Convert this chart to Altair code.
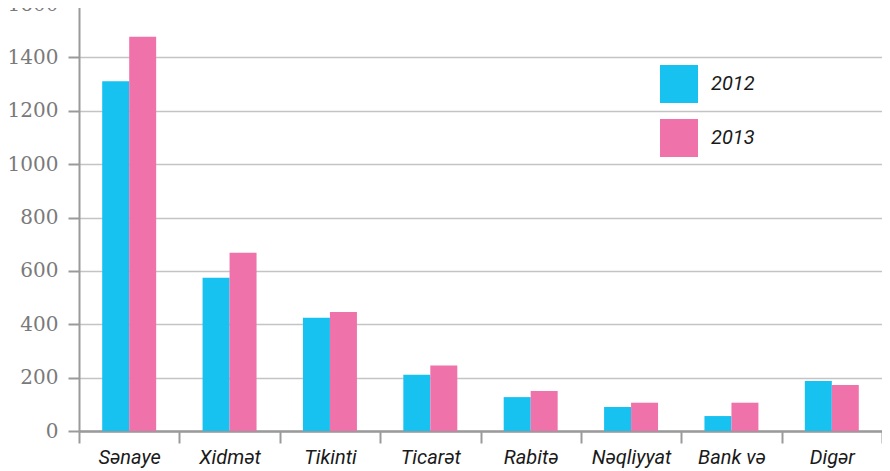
import altair as alt
import pandas as pd

categories = ["Sənaye", "Xidmət", "Tikinti", "Ticarət", "Rabitə", "Nəqliyyat", "Bank və sığorta", "Digər"]
years = ["2012", "2013"]
values_2012 = [1311, 574, 424, 211, 127, 90, 56, 187]
values_2013 = [1477, 668, 446, 245, 150, 106, 106, 172]
y_ticks = [0, 200, 400, 600, 800, 1000, 1200, 1400, 1600]
colors = ["#17C1F0", "#F072AB"]

rows = []
for c, v in zip(categories, values_2012):
    rows.append({"cat": c, "year": "2012", "value": v})
for c, v in zip(categories, values_2013):
    rows.append({"cat": c, "year": "2013", "value": v})
df = pd.DataFrame(rows)

chart = alt.Chart(df).mark_bar().encode(
    x=alt.X(
        "cat:N",
        sort=categories,
        scale=alt.Scale(paddingInner=0, paddingOuter=0),
        axis=alt.Axis(
            title=None,
            tickBand="extent",
            tickSize=12,
            tickWidth=2,
            tickColor="#9a9a9a",
            domainColor="#9a9a9a",
            domainWidth=2.5,
            labelFont="Roboto",
            labelFontStyle="italic",
            labelFontSize=20,
            labelColor="#1a1a1a",
            labelPadding=4,
            labelAngle=0,
            labelBaseline="top",
            labelExpr="datum.label == 'Bank və sığorta' ? ['Bank və', 'sığorta'] : datum.label",
        ),
    ),
    xOffset=alt.XOffset("year:N", scale=alt.Scale(paddingInner=0, paddingOuter=0.86)),
    y=alt.Y(
        "value:Q",
        scale=alt.Scale(domain=[0, 1600], nice=False),
        axis=alt.Axis(
            title=None,
            values=y_ticks,
            format="d",
            tickSize=11,
            tickWidth=2,
            tickColor="#9a9a9a",
            domainColor="#9a9a9a",
            domainWidth=2,
            gridColor="#c4c4c4",
            gridWidth=1.5,
            labelFont="DejaVu Serif",
            labelFontSize=20,
            labelColor="#7a7a7a",
            labelPadding=10,
        ),
    ),
    color=alt.Color(
        "year:N",
        scale=alt.Scale(domain=years, range=colors),
        legend=alt.Legend(
            title=None,
            orient="none",
            legendX=581,
            legendY=61,
            symbolType="square",
            symbolSize=1444,
            symbolStrokeWidth=0,
            symbolOpacity=1,
            rowPadding=16,
            labelOffset=13,
            labelFont="Roboto",
            labelFontStyle="italic",
            labelFontSize=20,
            labelColor="#1a1a1a",
            padding=0,
        ),
    ),
).properties(
    width=803,
    height=427,
    autosize=alt.AutoSizeParams(type="none"),
    padding={"left": 71, "top": -4, "right": 0, "bottom": 40},
).configure_view(stroke=None)

chart.save("out.html", embed_options={"renderer": "svg", "actions": False})
